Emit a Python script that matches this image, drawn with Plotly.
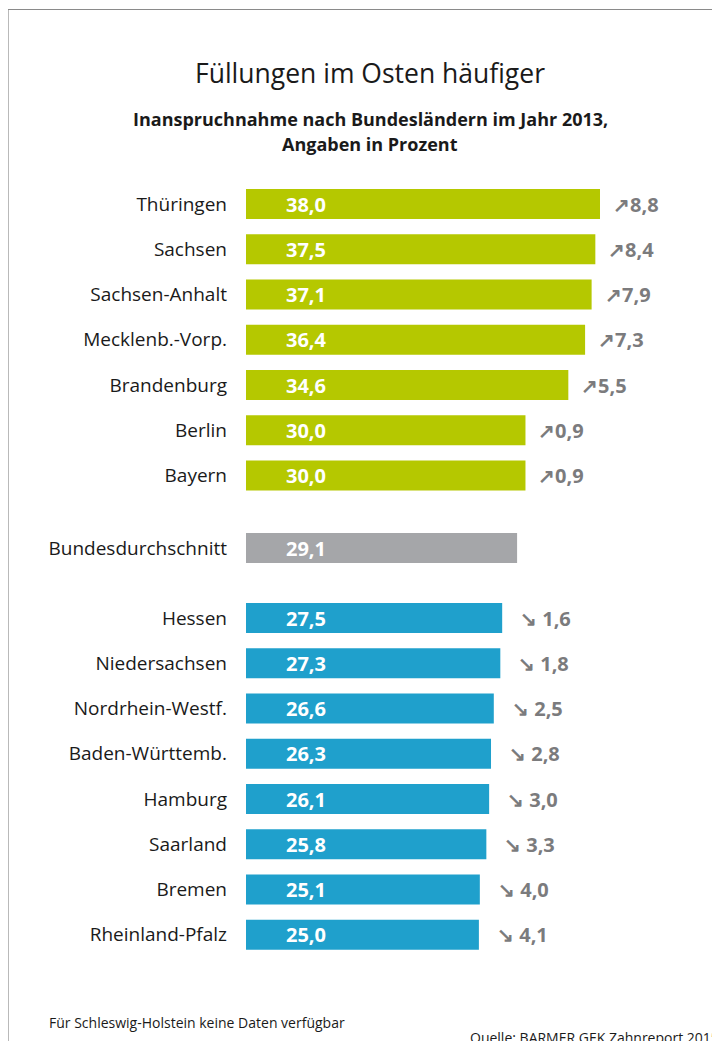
import plotly.graph_objects as go

# ---------------- data ----------------
laender_hoch = ["Thüringen", "Sachsen", "Sachsen-Anhalt", "Mecklenb.-Vorp.",
                "Brandenburg", "Berlin", "Bayern"]
werte_hoch = [38.0, 37.5, 37.1, 36.4, 34.6, 30.0, 30.0]
diff_hoch = [8.8, 8.4, 7.9, 7.3, 5.5, 0.9, 0.9]

durchschnitt_label = "Bundesdurchschnitt"
durchschnitt_wert = 29.1

laender_tief = ["Hessen", "Niedersachsen", "Nordrhein-Westf.", "Baden-Württemb.",
                "Hamburg", "Saarland", "Bremen", "Rheinland-Pfalz"]
werte_tief = [27.5, 27.3, 26.6, 26.3, 26.1, 25.8, 25.1, 25.0]
diff_tief = [1.6, 1.8, 2.5, 2.8, 3.0, 3.3, 4.0, 4.1]

titel = "Füllungen im Osten häufiger"
untertitel_1 = "Inanspruchnahme nach Bundesländern im Jahr 2013,"
untertitel_2 = "Angaben in Prozent"
fussnote = "Für Schleswig-Holstein keine Daten verfügbar"
quelle = "Quelle: BARMER GEK Zahnreport 2015"

# ---------------- layout constants ----------------
W, H = 720, 1041
OFF = 8                      # page offset of the figure (body margin)
L_SCREEN = 246               # screen x of bar base
R = 14
L = L_SCREEN - OFF
PW = W - L - R
XMAX = PW / (354 / 38.0)

GRUEN = "#b5c800"
GRAU = "#a5a6a9"
BLAU = "#1fa0cc"
TEXTGRAU = "#7b7b7d"
FONT = "Open Sans"

top, step = 204, 45.25
pos_hoch = [top + i * step for i in range(len(laender_hoch))]
pos_avg = pos_hoch[-1] + 72.5
pos_tief = [pos_avg + 70 + i * step for i in range(len(laender_tief))]


def fmt(v):
    return f"{v:.1f}".replace(".", ",")


def px_x(p):
    return (p - OFF - L) / PW


def px_y(p):
    return 1 - (p - OFF) / H


fig = go.Figure()
bar_h = 30
fig.add_trace(go.Bar(x=werte_hoch, y=pos_hoch, orientation="h", width=bar_h,
                     marker=dict(color=GRUEN, line=dict(width=0)), hoverinfo="skip"))
fig.add_trace(go.Bar(x=[durchschnitt_wert], y=[pos_avg], orientation="h", width=bar_h,
                     marker=dict(color=GRAU, line=dict(width=0)), hoverinfo="skip"))
fig.add_trace(go.Bar(x=werte_tief, y=pos_tief, orientation="h", width=bar_h,
                     marker=dict(color=BLAU, line=dict(width=0)), hoverinfo="skip"))

ann = []
# values inside bars
for v, y in zip(werte_hoch + [durchschnitt_wert] + werte_tief,
                pos_hoch + [pos_avg] + pos_tief):
    ann.append(dict(x=0, y=y, xref="x", yref="y", text=fmt(v), showarrow=False,
                    xanchor="left", yanchor="middle", xshift=38,
                    font=dict(family=FONT, size=20, color="white", weight="bold")))
# changes
for v, d, y in zip(werte_hoch, diff_hoch, pos_hoch):
    ann.append(dict(x=v, y=y, xref="x", yref="y", text="↗" + fmt(d), showarrow=False,
                    xanchor="left", yanchor="middle", xshift=11,
                    font=dict(family=FONT, size=20, color=TEXTGRAU, weight="bold")))
for v, d, y in zip(werte_tief, diff_tief, pos_tief):
    ann.append(dict(x=v, y=y, xref="x", yref="y", text="↘ " + fmt(d), showarrow=False,
                    xanchor="left", yanchor="middle", xshift=16,
                    font=dict(family=FONT, size=20, color=TEXTGRAU, weight="bold")))

# titles
ann.append(dict(x=px_x(370), y=px_y(73), xref="paper", yref="paper", text=titel,
                showarrow=False, xanchor="center", yanchor="middle",
                font=dict(family=FONT, size=26.5, color="#1a1a1a")))
ann.append(dict(x=px_x(370), y=px_y(119), xref="paper", yref="paper", text=untertitel_1,
                showarrow=False, xanchor="center", yanchor="middle",
                font=dict(family=FONT, size=18, color="#1a1a1a", weight="bold")))
ann.append(dict(x=px_x(370), y=px_y(144), xref="paper", yref="paper", text=untertitel_2,
                showarrow=False, xanchor="center", yanchor="middle",
                font=dict(family=FONT, size=18, color="#1a1a1a", weight="bold")))
ann.append(dict(x=px_x(47), y=px_y(1022), xref="paper", yref="paper", text=fussnote,
                showarrow=False, xanchor="left", yanchor="middle",
                font=dict(family=FONT, size=14, color="#1a1a1a")))
ann.append(dict(x=px_x(468), y=px_y(1026), xref="paper", yref="paper", text=quelle,
                showarrow=False, xanchor="left", yanchor="top",
                font=dict(family=FONT, size=14, color="#1a1a1a")))

fig.update_layout(
    width=W, height=H,
    margin=dict(l=L, r=R, t=0, b=0, pad=0),
    paper_bgcolor="white", plot_bgcolor="white",
    showlegend=False, barmode="overlay",
    annotations=ann,
    shapes=[dict(type="rect", xref="paper", yref="paper",
                 x0=px_x(8), x1=px_x(760), y0=px_y(1100), y1=px_y(9.5),
                 line=dict(color="#8a8a8a", width=1.2), fillcolor="rgba(0,0,0,0)",
                 layer="below")],
    xaxis=dict(range=[0, XMAX], visible=False, fixedrange=True),
    yaxis=dict(range=[H + OFF, OFF], tickvals=pos_hoch + [pos_avg] + pos_tief,
               ticktext=laender_hoch + [durchschnitt_label] + laender_tief,
               showgrid=False, zeroline=False, showline=False, ticks="",
               ticklabelstandoff=18,
               tickfont=dict(family=FONT, size=19, color="#1a1a1a"), fixedrange=True),
)

fig.write_html("out.html")
